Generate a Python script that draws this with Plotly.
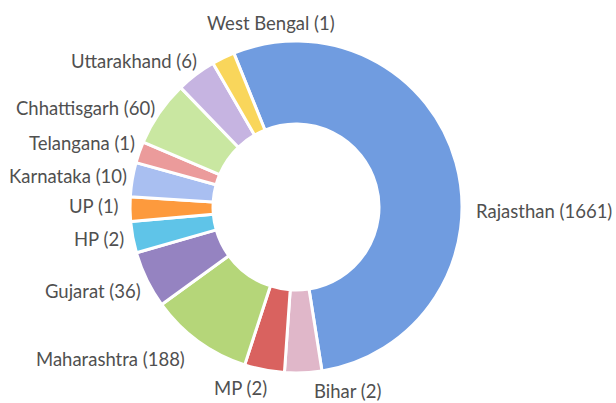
import math
import plotly.graph_objects as go

states = ["Rajasthan", "Bihar", "MP", "Maharashtra", "Gujarat", "HP", "UP",
          "Karnataka", "Telangana", "Chhattisgarh", "Uttarakhand", "West Bengal"]
counts = [1661, 2, 2, 188, 36, 2, 1, 10, 1, 60, 6, 1]
# slice sizes as drawn in the picture (degrees of arc, estimated)
slice_sizes = [193, 13, 14, 36, 20, 11, 8.5, 12, 7.5, 23, 14, 8]
colors = ["#709ce0", "#e0b7c9", "#d9625f", "#b5d679", "#9583c1", "#5fc4e8",
          "#fd9a3d", "#a9bff1", "#eb9b9b", "#c9e7a1", "#c6b4e1", "#f9d65b"]

labels_text = [f"{s} ({c})" for s, c in zip(states, counts)]

# ---- layout / style ----
W, H = 616, 403
CX, CY, R = 296, 207, 166          # pie centre and radius in pixels
ROTATION = -22
FONT = dict(family="Lato", size=18.5, color="#505050")
LINE_H = 23
GAP = 2
# label nudges (pixels) where the original layout moved labels
nudges = {"Rajasthan": (10, 50), "West Bengal": (49, -24), "Uttarakhand": (10, -4),
          "Telangana": (5, -7), "Chhattisgarh": (5, 0), "Gujarat": (4, 8),
          "Maharashtra": (-5, 9), "MP": (11, 5), "Bihar": (3, 5),
          "Karnataka": (4, -3), "UP": (-1, -3), "HP": (1, 1)}
center_anchor = {"West Bengal"}

fig = go.Figure(go.Pie(
    labels=states,
    values=slice_sizes,
    textinfo="none",
    hole=0.5,
    sort=False,
    direction="clockwise",
    rotation=ROTATION,
    marker=dict(colors=colors, line=dict(color="white", width=3)),
    domain=dict(x=[(CX - R) / W, (CX + R) / W], y=[(H - CY - R) / H, (H - CY + R) / H]),
    showlegend=False,
    hoverinfo="none",
))

# labels placed outside each slice at its mid-angle
total = sum(slice_sizes)
acc = 0.0
annotations = []
for name, txt, v in zip(states, labels_text, slice_sizes):
    mid = ROTATION + (acc + v / 2) / total * 360.0
    acc += v
    t = math.radians(mid)
    s, c = math.sin(t), math.cos(t)
    px = CX + (R + GAP) * s
    py = CY - (R + GAP) * c
    sy = -1 if c > 0 else 1
    py += sy * (LINE_H / 2) * c * c
    if name in center_anchor:
        xa = "center"
    elif s >= 0:
        xa = "left"
        px += LINE_H / 4
    else:
        xa = "right"
        px -= LINE_H / 4
    dx, dy = nudges.get(name, (0, 0))
    px += dx
    py += dy
    annotations.append(dict(
        x=px / W, y=1 - py / H, xref="paper", yref="paper",
        text=txt, showarrow=False, xanchor=xa, yanchor="middle", font=FONT,
    ))

fig.update_layout(
    width=W, height=H,
    margin=dict(l=0, r=0, t=0, b=0),
    paper_bgcolor="white",
    plot_bgcolor="white",
    showlegend=False,
    annotations=annotations,
)

fig.write_html("out.html", config={"displayModeBar": False},
               post_script="document.body.style.margin='0';")
